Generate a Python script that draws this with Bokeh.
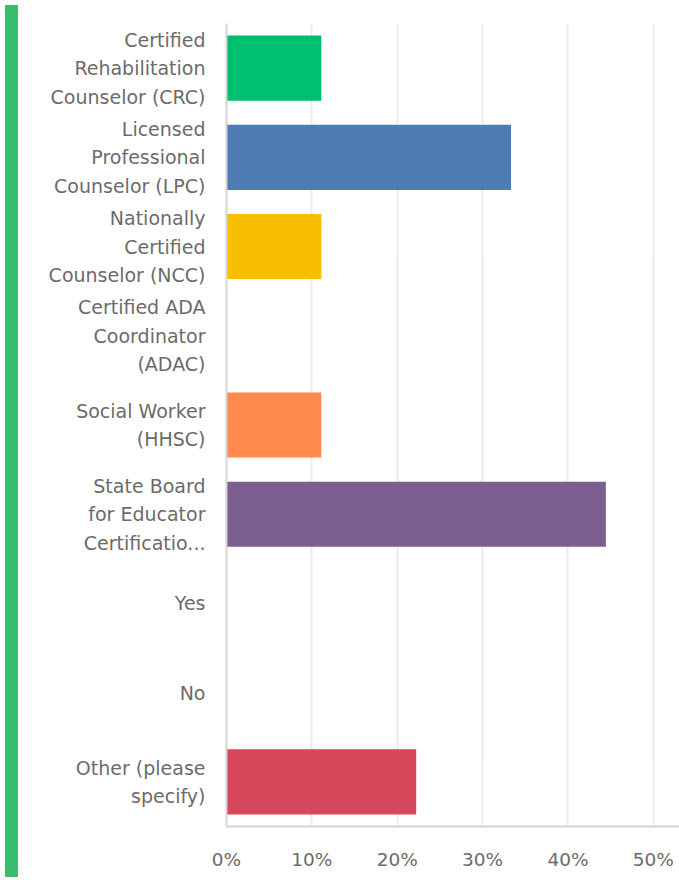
from bokeh.plotting import figure
from bokeh.models import FactorRange, Range1d, Div, NumeralTickFormatter, FixedTicker
from bokeh.layouts import row
from bokeh.embed import file_html
from bokeh.resources import INLINE

categories = [
    "Certified\nRehabilitation\nCounselor (CRC)",
    "Licensed\nProfessional\nCounselor (LPC)",
    "Nationally\nCertified\nCounselor (NCC)",
    "Certified ADA\nCoordinator\n(ADAC)",
    "Social Worker\n(HHSC)",
    "State Board\nfor Educator\nCertificatio...",
    "Yes",
    "No",
    "Other (please\nspecify)",
]
percent = [11.11, 33.33, 11.11, 0.0, 11.11, 44.44, 0.0, 0.0, 22.22]
bar_colors = ["#00bf6f", "#507cb6", "#f9be00", "#6bc8cd", "#ff8b4f", "#7d5e90", "#2dccd3", "#a8a8a8", "#d7475b"]
x_ticks = [0, 10, 20, 30, 40, 50]

p = figure(
    width=658, height=872,
    y_range=FactorRange(factors=list(reversed(categories)), range_padding=0),
    x_range=Range1d(0, 53.3),
    output_backend="svg", toolbar_location=None,
    min_border_left=203, min_border_right=0, min_border_top=23, min_border_bottom=42,
)
p.hbar(y=categories, right=percent, left=0, height=0.73, color=bar_colors, line_color=None)

p.outline_line_color = None
p.background_fill_color = "white"
p.border_fill_color = "white"

p.ygrid.grid_line_color = None
p.xgrid.grid_line_color = "#ececec"
p.xgrid.grid_line_width = 2
p.xaxis.ticker = FixedTicker(ticks=x_ticks)
p.xaxis.formatter = NumeralTickFormatter(format="0")
p.xaxis.major_label_overrides = {t: f"{t}%" for t in x_ticks}

for ax in (p.xaxis, p.yaxis):
    ax.major_tick_line_color = None
    ax.minor_tick_line_color = None
    ax.axis_line_color = "#d4d4d4"
    ax.axis_line_width = 2
    ax.major_label_text_color = "#6b6b6b"
    ax.major_label_text_font = "DejaVu Sans"

p.yaxis.major_label_text_font_size = "19px"
p.xaxis.major_label_text_font_size = "18.5px"
p.yaxis.major_label_standoff = 15
p.yaxis.major_label_text_line_height = 1.3
p.xaxis.major_label_standoff = 16

strip = Div(width=13, height=872, styles={"background-color": "#37be6e"})
layout = row(strip, p, spacing=0)

open("out.html", "w").write(file_html(layout, INLINE))
